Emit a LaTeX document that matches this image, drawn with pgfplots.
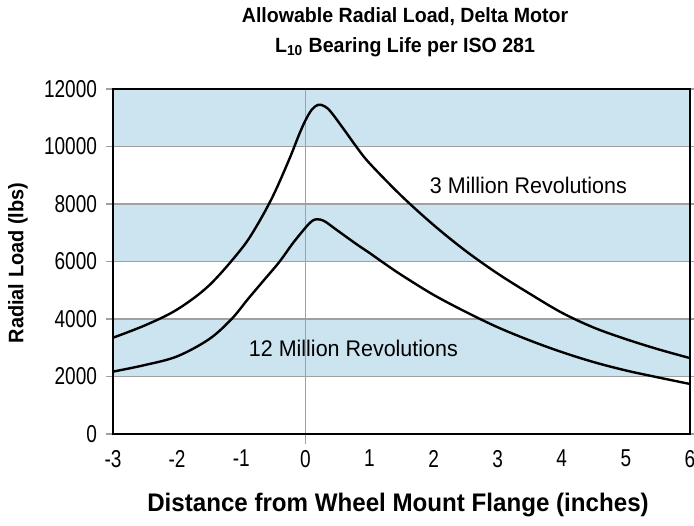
\documentclass[border=0pt]{standalone}
\usepackage{pgfplots}
\pgfplotsset{compat=1.18}
\usepackage{fontspec}
\setmainfont{Liberation Sans}[FakeStretch=0.95]
\newfontfamily\tickfont{Liberation Sans}[FakeStretch=0.78]
\definecolor{bandblue}{RGB}{204,227,240}
\definecolor{gridgray}{RGB}{160,160,160}
\begin{document}
\begin{tikzpicture}
\begin{axis}[
  at={(0,0)}, anchor=south west,
  scale only axis, width=288.5pt, height=172.5pt,
  xmin=-3, xmax=6, ymin=0, ymax=12000,
  xtick={-3,-2,...,6}, ytick={0,2000,...,12000},
  set layers,
  axis line style={line width=1.4pt},
  ymajorgrids, grid style={gridgray, line width=0.7pt},
  major tick length=3.5pt,
  tick align=outside,
  xtick style={draw=none},
  ytick style={gridgray, line width=0.7pt},
  /pgf/number format/assume math mode=true,
  scaled y ticks=false,
  yticklabel style={/pgf/number format/1000 sep={}, font=\tickfont\fontsize{12.2}{13}\selectfont, xshift=-1pt},
  xticklabel style={font=\tickfont\fontsize{12.2}{13}\selectfont, yshift=-1pt},
  clip=false,
]
\begin{pgfonlayer}{axis background}
\fill[bandblue] (axis cs:-3,2000) rectangle (axis cs:6,4000);
\fill[bandblue] (axis cs:-3,6000) rectangle (axis cs:6,8000);
\fill[bandblue] (axis cs:-3,10000) rectangle (axis cs:6,12000);
\end{pgfonlayer}
\begin{pgfonlayer}{axis grid}
\draw[gridgray, line width=0.7pt] ([yshift=-5pt]axis cs:0,0) -- (axis cs:0,12000);
\end{pgfonlayer}
\addplot[black, line width=1.2pt, smooth, tension=0.55] coordinates {
(-3,3350) (-2.5,3780) (-2,4330) (-1.5,5170) (-1,6430) (-0.75,7270) (-0.5,8300)
(-0.25,9560) (-0.1,10400) (0,10900) (0.1,11280) (0.2,11450) (0.3,11400) (0.4,11200)
(0.6,10600) (0.8,9980) (1,9420) (1.5,8280) (2,7270) (2.5,6370) (3,5580) (3.5,4880)
(4,4220) (4.5,3700) (5,3300) (5.5,2950) (6,2640)};
\addplot[black, line width=1.2pt, smooth, tension=0.55] coordinates {
(-3,2170) (-2.5,2400) (-2,2700) (-1.5,3300) (-1.15,4000) (-0.9,4680) (-0.65,5340)
(-0.4,6000) (-0.2,6620) (0,7170) (0.1,7400) (0.18,7470) (0.3,7400) (0.5,7080)
(0.8,6600) (1,6300) (1.19,6000) (1.5,5530) (2,4840) (2.5,4250) (3,3713) (3.5,3255)
(4,2850) (4.5,2500) (5,2210) (5.5,1970) (6,1740)};
\node[font=\fontsize{11.3}{12}\selectfont] at (axis cs:3.48,8660) {3 Million Revolutions};
\node[font=\fontsize{11.3}{12}\selectfont] at (axis cs:0.75,2970) {12 Million Revolutions};
\end{axis}
\node[font=\bfseries\fontsize{10.3}{11}\selectfont] at (146pt,208.5pt) {Allowable Radial Load, Delta Motor};
\node[font=\bfseries\fontsize{10.3}{11}\selectfont] at (146pt,193.5pt) {L\textsubscript{10} Bearing Life per ISO 281};
\node[font=\bfseries\fontsize{12.7}{13}\selectfont] at (142.5pt,-35.5pt) {Distance from Wheel Mount Flange (inches)};
\node[font=\bfseries\fontsize{10.5}{11}\selectfont, rotate=90] at (-47.5pt,85.5pt) {Radial Load (lbs)};
\pgfresetboundingbox
\path (-56.5pt,-45.5pt) rectangle (290.5pt,217pt);
\end{tikzpicture}
\end{document}
